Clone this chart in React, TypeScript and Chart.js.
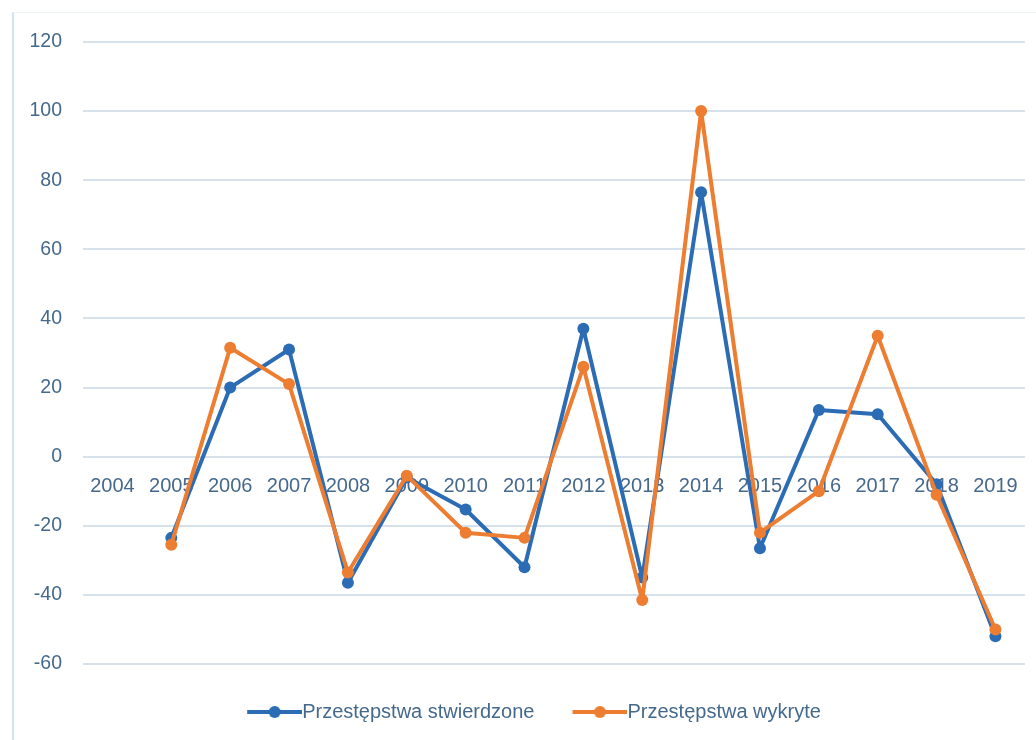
import React, { useEffect, useRef } from "react";
import { Chart, registerables } from "chart.js";

Chart.register(...registerables);

const years = ["2004", "2005", "2006", "2007", "2008", "2009", "2010", "2011", "2012", "2013", "2014", "2015", "2016", "2017", "2018", "2019"];
const stwierdzone = [null, -23.5, 20, 31, -36.5, -6, -15.3, -32, 37, -35, 76.5, -26.5, 13.5, 12.3, -8, -52];
const wykryte = [null, -25.5, 31.5, 21, -33.5, -5.5, -22, -23.5, 26, -41.5, 100, -22, -10, 35, -11, -50];
const seriesNames = ["Przestępstwa stwierdzone", "Przestępstwa wykryte"];
const seriesColors = ["#2b6cb5", "#ed7d31"];
const yTicks = { min: -60, max: 120, step: 20 };

const FONT = "'Liberation Sans', Arial, sans-serif";
const TEXT = "#45698c";

// legend symbol: line from x=10 to 65, centered on boxWidth/2 = 22.5 -> spans item x .. x+55
function legendImage(color: string): HTMLCanvasElement {
  const c = document.createElement("canvas");
  c.width = 65;
  c.height = 14;
  const g = c.getContext("2d")!;
  g.strokeStyle = color;
  g.lineWidth = 4;
  g.beginPath();
  g.moveTo(10, 7);
  g.lineTo(65, 7);
  g.stroke();
  g.fillStyle = color;
  g.beginPath();
  g.arc(37.5, 7, 6, 0, Math.PI * 2);
  g.fill();
  return c;
}

const legendShift = {
  id: "legendShift",
  afterLayout(chart: any) {
    const l = chart.legend;
    if (l) {
      l.left += 21;
      l.right += 21;
    }
  },
};

export default function App() {
  const ref = useRef<HTMLCanvasElement>(null);
  useEffect(() => {
    if (!ref.current) return;
    const imgs = seriesColors.map(legendImage);
    const common = {
      borderWidth: 4,
      pointRadius: 6,
      pointBorderWidth: 0,
      tension: 0,
      borderJoinStyle: "round" as const,
      borderCapStyle: "round" as const,
    };
    const chart = new Chart(ref.current, {
      type: "line",
      data: {
        labels: years,
        datasets: [
          {
            label: seriesNames[0],
            data: stwierdzone,
            borderColor: seriesColors[0],
            backgroundColor: seriesColors[0],
            order: 2,
            ...common,
          },
          {
            label: seriesNames[1],
            data: wykryte,
            borderColor: seriesColors[1],
            backgroundColor: seriesColors[1],
            order: 1,
            ...common,
          },
        ],
      },
      options: {
        animation: false,
        responsive: true,
        maintainAspectRatio: false,
        layout: { padding: { left: 0, right: 10, top: 42, bottom: 8 } },
        scales: {
          x: {
            position: { y: 0 } as any,
            offset: true,
            grid: { display: false, drawTicks: false },
            border: { display: false },
            ticks: {
              color: TEXT,
              font: { family: FONT, size: 20 },
              padding: 18,
              maxRotation: 0,
              autoSkip: false,
            },
          },
          y: {
            min: yTicks.min,
            max: yTicks.max,
            afterFit: (s: any) => {
              s.width = 83;
            },
            grid: { color: "#d6e1ec", lineWidth: 2, drawTicks: false },
            border: { display: false },
            ticks: {
              stepSize: yTicks.step,
              color: TEXT,
              font: { family: FONT, size: 19.5 },
              padding: 21,
            },
          },
        },
        plugins: {
          tooltip: { enabled: false },
          legend: {
            position: "bottom",
            maxHeight: 68,
            labels: {
              usePointStyle: true,
              pointStyleWidth: 45,
              padding: 38,
              color: TEXT,
              font: { family: FONT, size: 20 },
              generateLabels: () =>
                seriesNames.map((n, i) => ({
                  text: n,
                  fillStyle: seriesColors[i],
                  strokeStyle: seriesColors[i],
                  lineWidth: 0,
                  pointStyle: imgs[i],
                  datasetIndex: i,
                  hidden: false,
                  fontColor: TEXT,
                })) as any,
            },
          },
        },
      },
      plugins: [legendShift],
    });
    return () => chart.destroy();
  }, []);
  return (
    <div style={{ position: "fixed", left: 0, top: 0, width: 1036, height: 740, background: "#fff" }}>
      <div
        style={{
          position: "absolute",
          left: 12,
          top: 12,
          right: 0,
          bottom: 0,
          borderLeft: "2px solid #d3e2ef",
          borderTop: "1px solid #edf2f7",
        }}
      />
      <canvas ref={ref} style={{ position: "absolute", left: 0, top: 0 }} />
    </div>
  );
}
